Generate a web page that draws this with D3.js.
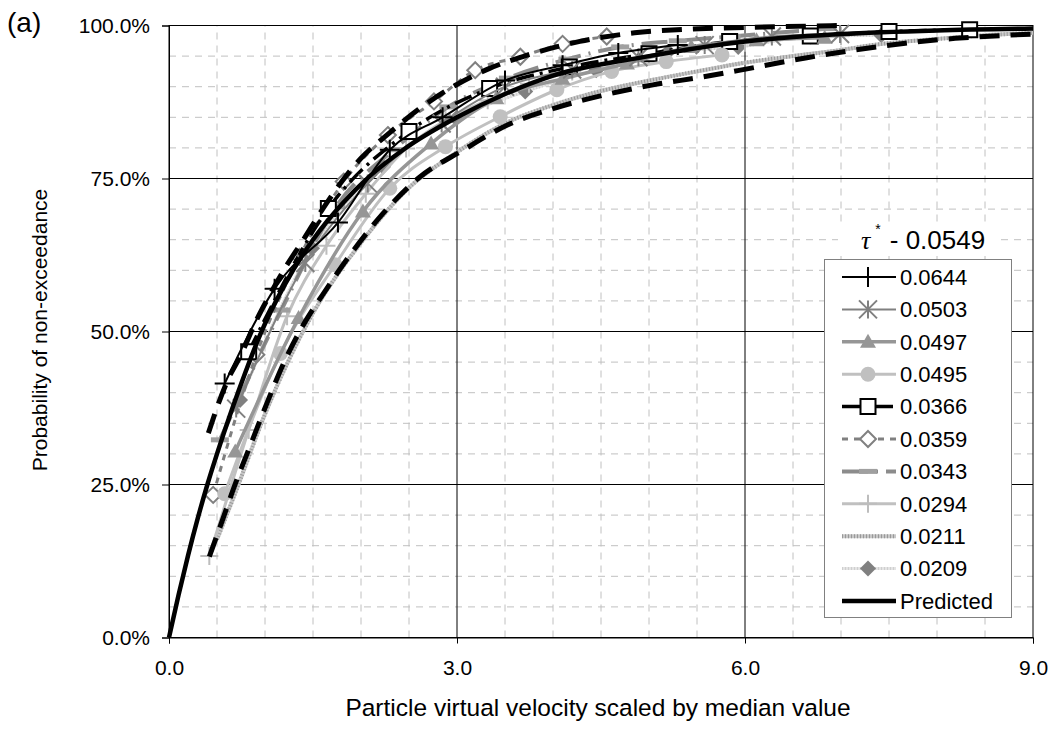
<!DOCTYPE html>
<html>
<head>
<meta charset="utf-8">
<script src="https://cdn.jsdelivr.net/npm/d3@7"></script>
<style>
  body { margin: 0; background: #fff; }
  text { font-family: Arial, "Liberation Sans", sans-serif; fill: #000; }
</style>
</head>
<body>
<svg id="chart" width="1053" height="730"></svg>
<script>
// tau* of each run, in legend order
const tauLabels = ['0.0644', '0.0503', '0.0497', '0.0495', '0.0366', '0.0359', '0.0343', '0.0294', '0.0211', '0.0209', 'Predicted'];

// [scaled velocity, % non-exceedance]
const s0644 = [[0.58, 41.5], [1.1, 57], [1.76, 67.8], [2.3, 79.7], [2.85, 85], [3.5, 91], [4.1, 93.5], [4.68, 95.5], [5.3, 96.8]];
const s0503 = [[0.7, 37.4], [1.42, 61.2], [2.07, 74.2], [2.84, 84], [3.5, 90], [4.2, 92.8], [4.89, 94.8], [5.58, 96.8], [6.28, 98.2], [6.99, 98.6]];
const s0497 = [[0.69, 30.4], [1.35, 52.2], [2.02, 69.6], [2.73, 80.7], [3.41, 88.1], [4.1, 91.3], [4.77, 93.8], [5.44, 96.5], [6.12, 97.6], [6.83, 98]];
const s0495 = [[0.58, 23.5], [1.16, 46.4], [1.73, 60.9], [2.3, 73.4], [2.88, 80.2], [3.45, 85.1], [4.04, 89.5], [4.61, 92.5], [5.18, 94.1], [5.76, 95.2]];
const s0366 = [[0.83, 46.7], [1.66, 70.1], [2.5, 82.7], [3.34, 89.7], [4.17, 93.2], [5.0, 95.4], [5.84, 97.4], [6.68, 98.3], [7.5, 99.0], [8.34, 99.3]];
const s0359 = [[0.46, 23.3], [0.91, 46.2], [1.36, 62.2], [1.82, 74.5], [2.28, 82.1], [2.76, 87.6], [3.19, 92.7], [3.66, 94.9], [4.1, 97], [4.56, 98.2]];
const s0343 = [[0.53, 32.3], [1.17, 53.5], [1.74, 70.4], [2.34, 79.7], [2.91, 86.7], [3.53, 91.4], [4.15, 94.5], [4.7, 96.5], [5.3, 97.5], [5.86, 98.2], [6.86, 99.5]];
const s0294 = [[0.42, 13.3], [0.83, 33.9], [1.23, 52.5], [1.64, 64], [2.05, 72.5], [2.47, 79.9], [2.88, 84.5], [3.32, 87.8], [3.75, 90.5], [4.2, 92.5], [5.0, 95], [6.0, 97.2], [7.0, 98.3]];
const s0211 = [[0.5, 16], [0.7, 24], [1.0, 36.5], [1.5, 53], [2.0, 64.5], [2.5, 73.5], [3.0, 79.3], [3.5, 84], [4.0, 87], [4.5, 89.3], [5.0, 91], [5.5, 92.5], [5.95, 93.8], [6.5, 95], [7.0, 96], [7.33, 96.8], [8.0, 97.8], [8.5, 98.4], [9.0, 98.8]];
const s0209 = [[0.74, 38.8], [1.49, 63.6], [2.23, 76.9], [2.99, 84.8], [3.71, 89.2], [4.45, 92.7], [5.2, 95.7], [5.93, 96.5], [6.68, 98.2], [7.42, 98.4]];
const predicted = [[0, 0], [0.1, 7], [0.2, 13.5], [0.3, 19.5], [0.4, 25], [0.5, 30], [0.65, 37], [0.8, 43.5], [0.95, 49.5], [1.2, 57.5], [1.5, 65], [1.8, 70.8], [2.1, 75.5], [2.44, 79.7], [3.0, 85], [3.5, 88.8], [4.0, 91.8], [5.0, 95], [6.0, 97.4], [7.0, 98.6], [8.0, 99.2], [9.0, 99.5]];
const upperBound = [[0.41, 33.4], [0.51, 38], [0.61, 42], [0.76, 46.5], [0.9, 51.5], [1.05, 56], [1.21, 60.4], [1.4, 65], [1.6, 70], [1.8, 74.5], [2.0, 78.3], [2.3, 82.5], [2.6, 86.3], [2.98, 90.2], [3.34, 93], [3.7, 95], [4.28, 97.4], [4.85, 98.8], [5.4, 99.4], [6.05, 99.7], [7.0, 100]];
const lowerBound = [[0.42, 13.2], [0.53, 18], [0.7, 25.5], [0.85, 31.5], [1.0, 37.5], [1.2, 45], [1.43, 51.9], [1.6, 56], [1.9, 62.8], [2.23, 69.3], [2.61, 75.2], [3.06, 79.6], [3.52, 83.7], [4.02, 86.5], [4.52, 88.6], [5.04, 90.3], [5.56, 91.6], [6.05, 93], [6.63, 94.7], [7.15, 96], [7.67, 97.1], [8.19, 97.9], [8.73, 98.4], [9.0, 98.6]];

const xTicks = [0, 3, 6, 9];
const yTicks = [0, 25, 50, 75, 100];
const legendTitleValue = '0.0549';

// drawing styles for each run (legend order)
const series = [
  { data: s0644, stroke: '#000', width: 2, marker: 'plus', mColor: '#000', mSize: 10 },
  { data: s0503, stroke: '#808080', width: 2, marker: 'star', mColor: '#808080', mSize: 9 },
  { data: s0497, stroke: '#969696', width: 3.5, marker: 'triangle', mColor: '#969696', mSize: 8 },
  { data: s0495, stroke: '#c0c0c0', width: 3, marker: 'circle', mColor: '#c0c0c0', mSize: 7.5 },
  { data: s0366, stroke: '#000', width: 3.5, dash: '18,6,3,6', marker: 'square', mColor: '#000', mSize: 7.5 },
  { data: s0359, stroke: '#808080', width: 3, dash: '6,6', marker: 'diamondOpen', mColor: '#808080', mSize: 8 },
  { data: s0343, stroke: '#8c8c8c', width: 4, dash: '26,8,2,8', marker: 'bar', mColor: '#a0a0a0', mSize: 9 },
  { data: s0294, stroke: '#c0c0c0', width: 3, marker: 'plus', mColor: '#bdbdbd', mSize: 9 },
  { data: s0211, stroke: '#c8c8c8', width: 4, texture: '#999', marker: null },
  { data: s0209, stroke: '#e4e4e4', width: 3, texture: '#cfcfcf', marker: 'diamond', mColor: '#808080', mSize: 8 },
];

const svg = d3.select('#chart');
const x = d3.scaleLinear().domain([0, 9]).range([169, 1033]);
const y = d3.scaleLinear().domain([0, 100]).range([637.5, 25.5]);

// minor dashed grid
const xMinor = d3.range(0.5, 9, 0.5).filter((v) => v % 3 !== 0);
const yMinor = d3.range(5, 100, 5).filter((v) => v % 25 !== 0);
const grid = svg.append('g');
grid.selectAll('.vx').data(xMinor).enter().append('line')
  .attr('x1', (d) => x(d)).attr('x2', (d) => x(d))
  .attr('y1', y(0)).attr('y2', y(100))
  .attr('stroke', '#c0c0c0').attr('stroke-dasharray', '7,6');
grid.selectAll('.hy').data(yMinor).enter().append('line')
  .attr('x1', x(0)).attr('x2', x(9))
  .attr('y1', (d) => y(d)).attr('y2', (d) => y(d))
  .attr('stroke', '#c0c0c0').attr('stroke-dasharray', '7,6');
// major grid
grid.selectAll('.mx').data([3, 6]).enter().append('line')
  .attr('x1', (d) => x(d)).attr('x2', (d) => x(d))
  .attr('y1', y(0)).attr('y2', y(100)).attr('stroke', '#000');
grid.selectAll('.my').data([25, 50, 75]).enter().append('line')
  .attr('x1', x(0)).attr('x2', x(9))
  .attr('y1', (d) => y(d)).attr('y2', (d) => y(d)).attr('stroke', '#000');
svg.append('rect')
  .attr('x', x(0)).attr('y', y(100))
  .attr('width', x(9) - x(0)).attr('height', y(0) - y(100))
  .attr('fill', 'none').attr('stroke', '#000');

const line = d3.line().x((d) => x(d[0])).y((d) => y(d[1])).curve(d3.curveMonotoneX);

function markerPath(type, s) {
  switch (type) {
    case 'plus': return `M${-s},0H${s}M0,${-s}V${s}`;
    case 'star': return `M${-s},${-s}L${s},${s}M${-s},${s}L${s},${-s}M0,${-s}V${s}`;
    case 'triangle': return `M0,${-s}L${s},${s * 0.75}L${-s},${s * 0.75}Z`;
    case 'square': return `M${-s},${-s}H${s}V${s}H${-s}Z`;
    case 'diamond':
    case 'diamondOpen': return `M0,${-s}L${s},0L0,${s}L${-s},0Z`;
    case 'bar': return `M${-s},-2.5H${s}V2.5H${-s}Z`;
    default: return '';
  }
}

function drawMarker(g, s, cx, cy) {
  if (!s.marker) return;
  if (s.marker === 'circle') {
    g.append('circle').attr('cx', cx).attr('cy', cy).attr('r', s.mSize).attr('fill', s.mColor);
    return;
  }
  const p = g.append('path').attr('d', markerPath(s.marker, s.mSize))
    .attr('transform', `translate(${cx},${cy})`);
  if (s.marker === 'plus' || s.marker === 'star') {
    p.attr('fill', 'none').attr('stroke', s.mColor).attr('stroke-width', 2);
  } else if (s.marker === 'square' || s.marker === 'diamondOpen') {
    p.attr('fill', '#fff').attr('stroke', s.mColor).attr('stroke-width', 2);
  } else {
    p.attr('fill', s.mColor);
  }
}

function drawLine(g, s, d) {
  g.append('path').attr('d', d).attr('fill', 'none')
    .attr('stroke', s.stroke).attr('stroke-width', s.width)
    .attr('stroke-dasharray', s.dash || null);
  if (s.texture) {
    g.append('path').attr('d', d).attr('fill', 'none')
      .attr('stroke', s.texture).attr('stroke-width', s.width)
      .attr('stroke-dasharray', '1,2');
  }
}

const plot = svg.append('g');
series.slice().reverse().forEach((s) => {
  const g = plot.append('g');
  drawLine(g, s, line(s.data));
  s.data.forEach((d) => drawMarker(g, s, x(d[0]), y(d[1])));
});

// confidence bands and predicted curve
[upperBound, lowerBound].forEach((b) => {
  plot.append('path').attr('d', line(b)).attr('fill', 'none')
    .attr('stroke', '#000').attr('stroke-width', 5).attr('stroke-dasharray', '20,11');
});
plot.append('path').attr('d', line(predicted)).attr('fill', 'none')
  .attr('stroke', '#000').attr('stroke-width', 4.5);

// axes
const yAxis = svg.append('g').attr('transform', `translate(${x(0)},0)`)
  .call(d3.axisLeft(y).tickValues(yTicks).tickSize(7).tickPadding(12)
    .tickFormat((d) => d.toFixed(1) + '%'));
const xAxis = svg.append('g').attr('transform', `translate(0,${y(0)})`)
  .call(d3.axisBottom(x).tickValues(xTicks).tickSize(6).tickPadding(17)
    .tickFormat((d) => d.toFixed(1)));
[yAxis, xAxis].forEach((a) => {
  a.select('.domain').attr('stroke', '#000');
  a.selectAll('line').attr('stroke', '#000');
  a.selectAll('text').attr('font-size', 21).attr('font-family', 'Arial, "Liberation Sans", sans-serif').attr('fill', '#000');
});

svg.append('text').attr('x', 598).attr('y', 716).attr('text-anchor', 'middle')
  .attr('font-size', 24.5).text('Particle virtual velocity scaled by median value');
svg.append('text').attr('transform', 'translate(47,330) rotate(-90)').attr('text-anchor', 'middle')
  .attr('font-size', 21).text('Probability of non-exceedance');
svg.append('text').attr('x', 7).attr('y', 32).attr('font-size', 28).text('(a)');

// legend
const lg = svg.append('g');
lg.append('rect').attr('x', 838).attr('y', 224).attr('width', 160).attr('height', 32).attr('fill', '#fff');
const title = lg.append('text').attr('x', 861).attr('y', 249).attr('font-size', 26);
title.append('tspan').attr('font-family', '"Liberation Serif", "DejaVu Serif", serif')
  .attr('font-style', 'italic').text('τ');
title.append('tspan').attr('font-size', 14).attr('dy', -15).attr('dx', 5).text('*');
title.append('tspan').attr('dy', 15).attr('dx', 9).text('- ' + legendTitleValue);

lg.append('rect').attr('x', 824.5).attr('y', 259.5).attr('width', 187).attr('height', 358)
  .attr('fill', '#fff').attr('stroke', '#808080');
const legendItems = series.concat([{ stroke: '#000', width: 4.5, marker: null }]);
legendItems.forEach((s, i) => {
  const ly = 277 + i * 32.4;
  const g = lg.append('g');
  drawLine(g, s, `M842,${ly}H896`);
  drawMarker(g, s, 868, ly);
  g.append('text').attr('x', 900).attr('y', ly).attr('dy', '0.35em')
    .attr('font-size', 22).text(tauLabels[i]);
});
</script>
</body>
</html>
